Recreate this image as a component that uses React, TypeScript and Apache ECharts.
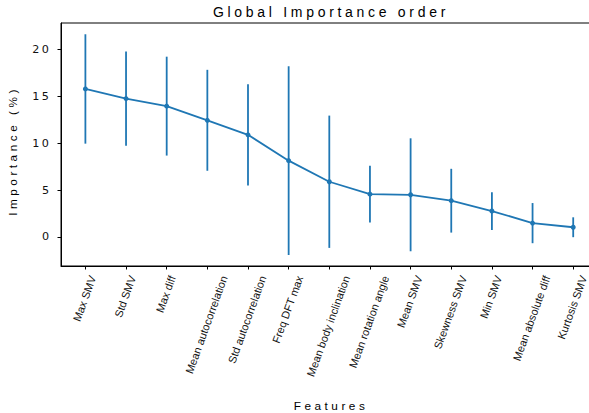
import React, { useEffect, useRef } from 'react';
import * as echarts from 'echarts';

const categories = [
  'Max SMV',
  'Std SMV',
  'Max diff',
  'Mean autocorrelation',
  'Std autocorrelation',
  'Freq DFT max',
  'Mean body inclination',
  'Mean rotation angle',
  'Mean SMV',
  'Skewness SMV',
  'Min SMV',
  'Mean absolute diff',
  'Kurtosis SMV',
];
const importance = [15.77, 14.74, 13.94, 12.43, 10.88, 8.13, 5.88, 4.56, 4.49, 3.86, 2.76, 1.47, 1.03];
const stdDev = [5.83, 5.02, 5.27, 5.38, 5.4, 10.06, 7.05, 3.03, 6.02, 3.4, 2.01, 2.14, 1.06];
const yTicks = [0, 5, 10, 15, 20];
const xTicks = categories.map((_, i) => i);

const BLUE = '#1f77b4';
const FAMILY = '"Liberation Sans", Arial, Helvetica, sans-serif';
const X_FONT_SIZE = 11;
const X_FONT = `${X_FONT_SIZE}px "Liberation Sans", Arial, Helvetica, sans-serif`;
const ROT = (70 * Math.PI) / 180;

let measureCtx: CanvasRenderingContext2D | null = null;
function measure(text: string, font: string): number {
  if (!measureCtx) measureCtx = document.createElement('canvas').getContext('2d');
  if (!measureCtx) return text.length * 6;
  measureCtx.font = font;
  return measureCtx.measureText(text).width;
}

const css = `
text[style*="14px"] { letter-spacing: 3.7px; }
text[style*="11.8px"] { letter-spacing: 3.5px; }
text[style*="11.2px"] { letter-spacing: 2.5px; }
`;

export default function App() {
  const ref = useRef<HTMLDivElement>(null);

  useEffect(() => {
    if (!ref.current) return;
    const chart = echarts.init(ref.current, undefined, { renderer: 'svg' });

    const option: any = {
      animation: false,
      backgroundColor: '#ffffff',
      title: {
        text: 'Global Importance order',
        left: 331,
        top: 5,
        padding: 0,
        textAlign: 'center',
        textStyle: { fontSize: 14, fontWeight: 'normal', color: '#000', fontFamily: FAMILY },
      },
      grid: {
        left: 61,
        top: 23,
        width: 536.6,
        height: 243,
        show: true,
        borderColor: '#000',
        borderWidth: 1,
        backgroundColor: 'transparent',
        containLabel: false,
        outerBoundsMode: 'none',
      },
      xAxis: {
        type: 'value',
        min: -0.6,
        max: 12.6,
        name: 'Features',
        nameLocation: 'middle',
        nameGap: 134,
        nameTextStyle: { fontSize: 11.8, color: '#000', fontFamily: FAMILY, padding: [0, 0, 0, 3.5] },
        axisLine: { show: true, onZero: false, lineStyle: { color: '#000', width: 1 } },
        axisTick: { show: true, length: 3.5, customValues: xTicks, lineStyle: { color: '#000', width: 1 } },
        axisLabel: { show: false },
        splitLine: { show: false },
      },
      yAxis: {
        type: 'value',
        min: -3.1,
        max: 22.8,
        name: 'Importance (%)',
        nameLocation: 'middle',
        nameRotate: 90,
        nameGap: 42,
        nameTextStyle: { fontSize: 11.8, color: '#000', fontFamily: FAMILY, padding: [0, 13, 0, 0] },
        axisLine: { show: true, onZero: false, lineStyle: { color: '#000', width: 1 } },
        axisTick: { show: true, length: 3.5, customValues: yTicks, lineStyle: { color: '#000', width: 1 } },
        axisLabel: {
          show: true,
          customValues: yTicks,
          margin: 9.5,
          fontSize: 11.2,
          color: '#111',
          fontFamily: '"DejaVu Sans", sans-serif',
        },
        splitLine: { show: false },
      },
      series: [
        {
          type: 'custom',
          name: 'error',
          silent: true,
          encode: { x: 0, y: [1, 2] },
          data: importance.map((v, i) => [i, v - stdDev[i], v + stdDev[i]]),
          renderItem: (params: any, api: any) => {
            const i = api.value(0);
            const lo = api.coord([i, api.value(1)]);
            const hi = api.coord([i, api.value(2)]);
            return {
              type: 'line',
              shape: { x1: lo[0], y1: lo[1], x2: hi[0], y2: hi[1] },
              style: { stroke: BLUE, lineWidth: 1.8 },
            };
          },
          z: 2,
        },
        {
          type: 'line',
          name: 'importance',
          data: importance.map((v, i) => [i, v]),
          symbol: 'circle',
          symbolSize: 5,
          showSymbol: true,
          lineStyle: { color: BLUE, width: 1.8 },
          itemStyle: { color: BLUE },
          z: 3,
        },
        {
          type: 'custom',
          name: 'labels',
          silent: true,
          encode: { x: 0, y: 1 },
          data: categories.map((_, i) => [i, 0]),
          renderItem: (params: any, api: any) => {
            const i = api.value(0);
            const p = api.coord([i, 0]);
            const cs = params.coordSys;
            const bottom = cs.y + cs.height;
            const text = categories[i];
            const L = measure(text, X_FONT);
            const h = X_FONT_SIZE * 1.1;
            const H = L * Math.sin(ROT) + h * Math.cos(ROT);
            return {
              type: 'text',
              x: p[0] - 1,
              y: bottom + 8 + H / 2,
              rotation: ROT,
              style: {
                text,
                font: X_FONT,
                fill: '#111',
                align: 'center',
                verticalAlign: 'middle',
              },
            };
          },
          z: 4,
        },
      ],
    };

    chart.setOption(option);
    return () => chart.dispose();
  }, []);

  return (
    <>
      <style>{css}</style>
      <div
        style={{ position: 'fixed', left: 0, top: 0, width: 589, height: 413, overflow: 'hidden', background: '#fff' }}
      >
        <div ref={ref} style={{ width: 600, height: 413 }} />
      </div>
    </>
  );
}
